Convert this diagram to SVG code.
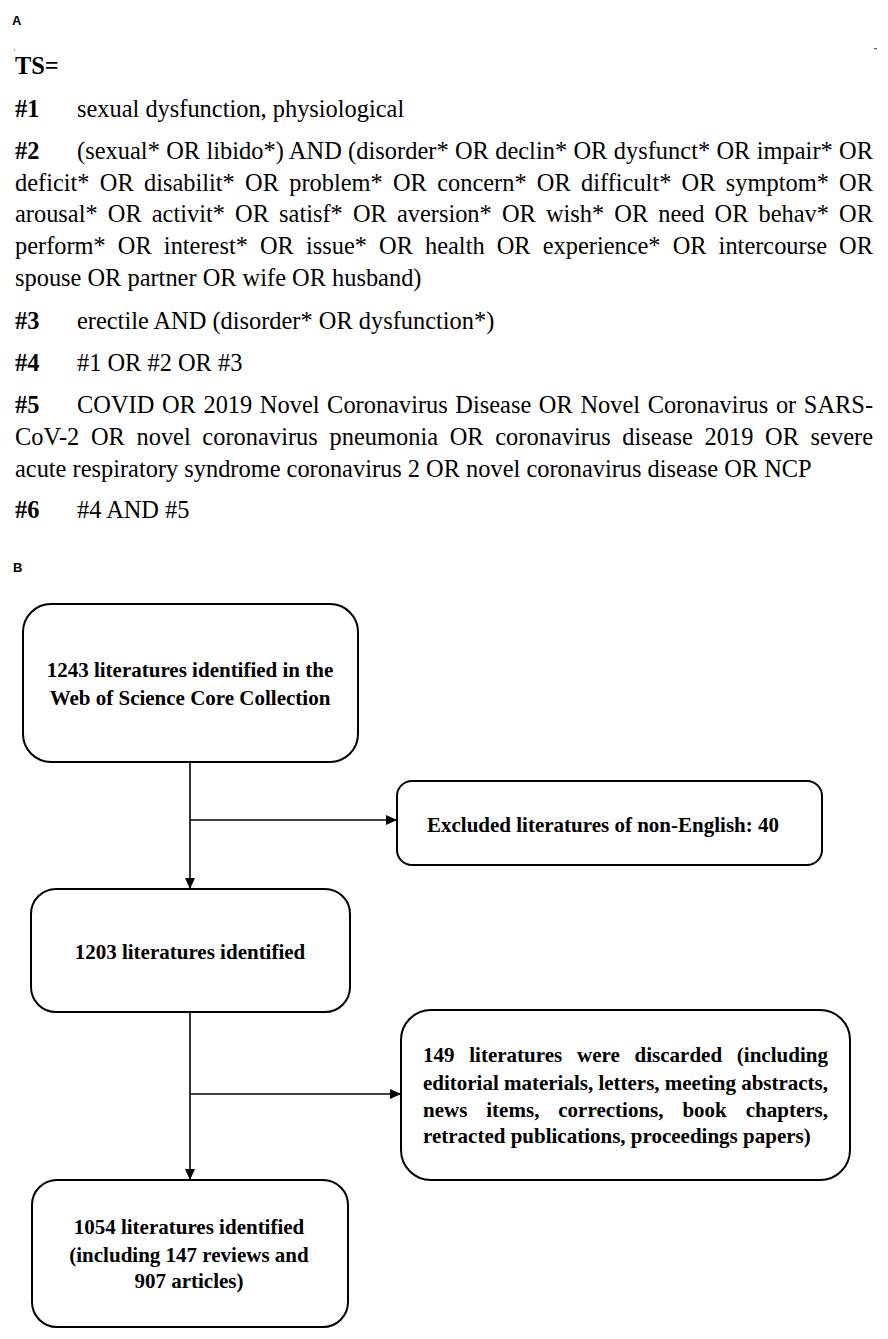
<svg xmlns="http://www.w3.org/2000/svg" width="888" height="1339" viewBox="0 0 888 1339">
<style>
.lbl{font-family:"Liberation Sans",Arial,sans-serif;font-weight:bold;font-size:13px;fill:#000}
.a{font-family:"Liberation Serif","Times New Roman",Times,serif;font-weight:normal;font-size:24.4px;fill:#000}
.ab{font-family:"Liberation Serif","Times New Roman",Times,serif;font-size:24.4px;font-weight:bold;fill:#000}
.bx{fill:#fff;stroke:#000;stroke-width:2}
.t{font-family:"Liberation Serif","Times New Roman",Times,serif;font-size:21px;font-weight:bold;fill:#000}
.c{text-anchor:middle}
.ln{stroke:#000;stroke-width:1.6;fill:none}
</style>
<defs>
<marker id="arr" markerUnits="userSpaceOnUse" markerWidth="12" markerHeight="10" refX="11" refY="5" orient="auto">
<path d="M0,0 L11,5 L0,10 z" fill="#000"/>
</marker>
</defs>
<rect width="888" height="1339" fill="#fff"/>

<g id="panelA">
<text class="lbl" x="12" y="25">A</text>
<rect x="14" y="49" width="1" height="1.5" fill="#888"/>
<rect x="874" y="48" width="3" height="1.2" fill="#666"/>
<text class="ab" x="15" y="74">TS=</text>
<text class="ab" x="15" y="117">#1</text>
<text class="a" x="77" y="117">sexual dysfunction, physiological</text>
<text class="ab" x="15" y="159">#2</text>
<text class="a" x="77" y="159" word-spacing="0.16" textLength="796" lengthAdjust="spacing">(sexual* OR libido*) AND (disorder* OR declin* OR dysfunct* OR impair* OR</text>
<text class="a" x="15" y="191" word-spacing="4.13" textLength="858" lengthAdjust="spacing">deficit* OR disabilit* OR problem* OR concern* OR difficult* OR symptom* OR</text>
<text class="a" x="15" y="222" word-spacing="4.02" textLength="858" lengthAdjust="spacing">arousal* OR activit* OR satisf* OR aversion* OR wish* OR need OR behav* OR</text>
<text class="a" x="15" y="254" word-spacing="5.98" textLength="858" lengthAdjust="spacing">perform* OR interest* OR issue* OR health OR experience* OR intercourse OR</text>
<text class="a" x="15" y="286">spouse OR partner OR wife OR husband)</text>
<text class="ab" x="15" y="329">#3</text>
<text class="a" x="77" y="329">erectile AND (disorder* OR dysfunction*)</text>
<text class="ab" x="15" y="371">#4</text>
<text class="a" x="77" y="371">#1 OR #2 OR #3</text>
<text class="ab" x="15" y="413">#5</text>
<text class="a" x="77" y="413" word-spacing="1.53" textLength="796" lengthAdjust="spacing">COVID OR 2019 Novel Coronavirus Disease OR Novel Coronavirus or SARS-</text>
<text class="a" x="15" y="445" word-spacing="5.43" textLength="858" lengthAdjust="spacing">CoV-2 OR novel coronavirus pneumonia OR coronavirus disease 2019 OR severe</text>
<text class="a" x="15" y="477">acute respiratory syndrome coronavirus 2 OR novel coronavirus disease OR NCP</text>
<text class="ab" x="15" y="518">#6</text>
<text class="a" x="77" y="518">#4 AND #5</text>
<text class="lbl" x="13" y="572">B</text>
</g>

<g id="connectors">
<line class="ln" x1="190" y1="762" x2="190" y2="889" marker-end="url(#arr)"/>
<line class="ln" x1="190" y1="820" x2="397" y2="820" marker-end="url(#arr)"/>
<line class="ln" x1="190" y1="1012" x2="190" y2="1180" marker-end="url(#arr)"/>
<line class="ln" x1="190" y1="1094" x2="401" y2="1094" marker-end="url(#arr)"/>
</g>

<g id="node1">
<rect class="bx" x="23" y="604" width="335" height="158" rx="28" ry="28"/>
<text class="t c" x="190" y="677">1243 literatures identified in the</text>
<text class="t c" x="190" y="705">Web of Science Core Collection</text>
</g>

<g id="node2">
<rect class="bx" x="397" y="781" width="425" height="84" rx="15" ry="15"/>
<text class="t c" x="603" y="832">Excluded literatures of non-English: 40</text>
</g>

<g id="node3">
<rect class="bx" x="31" y="889" width="319" height="123" rx="25" ry="25"/>
<text class="t c" x="190" y="959">1203 literatures identified</text>
</g>

<g id="node4">
<rect class="bx" x="401" y="1010" width="449" height="170" rx="30" ry="30"/>
<text class="t" x="423" y="1062" word-spacing="9.4" textLength="405" lengthAdjust="spacing">149 literatures were discarded (including</text>
<text class="t" x="423" y="1090" textLength="405" lengthAdjust="spacing">editorial materials, letters, meeting abstracts,</text>
<text class="t" x="423" y="1117" word-spacing="13.6" textLength="405" lengthAdjust="spacing">news items, corrections, book chapters,</text>
<text class="t" x="423" y="1143">retracted publications, proceedings papers)</text>
</g>

<g id="node5">
<rect class="bx" x="32" y="1180" width="316" height="147" rx="25" ry="25"/>
<text class="t c" x="189" y="1234">1054 literatures identified</text>
<text class="t c" x="189" y="1262">(including 147 reviews and</text>
<text class="t c" x="189" y="1288">907 articles)</text>
</g>
</svg>
